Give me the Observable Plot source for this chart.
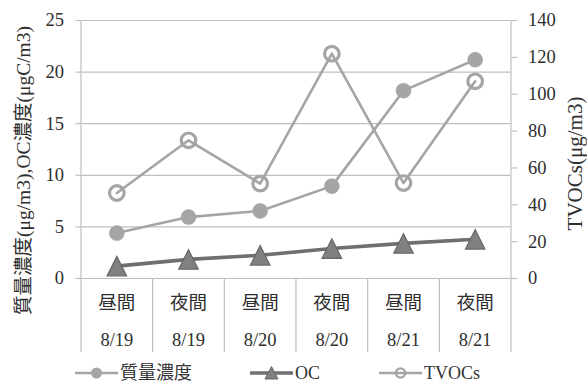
<!DOCTYPE html>
<html>
<head>
<meta charset="utf-8">
<script src="https://cdn.jsdelivr.net/npm/d3@7"></script>
<script src="https://cdn.jsdelivr.net/npm/@observablehq/plot@0.6"></script>
<style>
  html, body { margin: 0; padding: 0; background: #fff; overflow: hidden; }
  #chart { width: 587px; height: 360px; }
  .legend { position: relative; width: 587px; height: 25px;
            font-family: "Liberation Serif", "Liberation Sans", "Noto Sans CJK JP", sans-serif;
            font-size: 18px; line-height: 20px; color: #333; }
  .legend .item { position: absolute; top: 0; height: 25px; display: flex; align-items: center; white-space: nowrap; }
  .legend svg { display: block; margin-right: 2px; }
</style>
</head>
<body>
<div id="chart"></div>
<script>
// Sampling periods and dates (category axis, two rows)
const periods = ["昼間", "夜間", "昼間", "夜間", "昼間", "夜間"];
const dates = ["8/19", "8/19", "8/20", "8/20", "8/21", "8/21"];

// Series values
const massConc = [4.4, 5.95, 6.55, 8.95, 18.2, 21.2];   // μg/m3, left axis
const ocConc = [1.2, 1.85, 2.25, 2.9, 3.4, 3.8];        // μgC/m3, left axis
const tvocConc = [46.4, 75, 51.5, 122, 51.8, 107];      // μg/m3, right axis

// Axis ticks
const leftTicks = [0, 5, 10, 15, 20, 25];
const rightTicks = [0, 20, 40, 60, 80, 100, 120, 140];

const seriesNames = ["質量濃度", "OC", "TVOCs"];
const leftTitle = "質量濃度(μg/m3),OC濃度(μgC/m3)";
const rightTitle = "TVOCs(μg/m3)";

// The right axis (0–140) shares the left y scale (0–25)
const leftMax = leftTicks[leftTicks.length - 1];
const rightMax = rightTicks[rightTicks.length - 1];
const k = leftMax / rightMax;

const rows = periods.map((p, i) => ({
  pos: i + 0.5,
  period: p,
  date: dates[i],
  mass: massConc[i],
  oc: ocConc[i],
  tvoc: tvocConc[i] * k
}));
const bounds = d3.range(periods.length + 1);

const fontFamily = `"Liberation Serif", "Liberation Sans", "Noto Sans CJK JP", sans-serif`;
const textColor = "#2e2e2e";
const gridColor = "#bfbfbf";
const lightGray = "#a5a5a5";
const darkLine = "#6f6f6f";

// Upright triangle centred on its bounding box
const triangle = {
  draw(ctx, size) {
    const a = Math.sqrt(size / Math.PI) * 1.25;
    ctx.moveTo(0, -a);
    ctx.lineTo(a, a);
    ctx.lineTo(-a, a);
    ctx.closePath();
  }
};

const chart = Plot.plot({
  width: 587,
  height: 360,
  marginLeft: 80.5,
  marginRight: 76.5,
  marginTop: 20,
  marginBottom: 82,
  x: { domain: [0, periods.length], axis: null },
  y: { domain: [0, leftMax], axis: null },
  style: { fontFamily, fontSize: "18.5px", color: textColor, background: "#fff", overflow: "visible" },
  marks: [
    Plot.gridY(leftTicks, { stroke: gridColor, strokeOpacity: 1, strokeWidth: 1.2 }),
    Plot.ruleX([0, periods.length], { stroke: gridColor, strokeWidth: 1.2 }),
    // category separators below the baseline
    Plot.axisX(bounds, { tickSize: 74, tickFormat: () => "", stroke: gridColor, strokeWidth: 1.2, label: null }),
    Plot.text(rows, { x: "pos", text: "period", frameAnchor: "bottom", dy: 25, lineAnchor: "middle", fontSize: 18.5 }),
    Plot.text(rows, { x: "pos", text: "date", frameAnchor: "bottom", dy: 62, lineAnchor: "middle", fontSize: 18.5 }),
    // left axis
    Plot.axisY(leftTicks, { anchor: "left", tickSize: 5, tickPadding: 12, stroke: gridColor, strokeWidth: 1.2, label: null, fontSize: 18.5 }),
    // right axis
    Plot.axisY(rightTicks.map(v => v * k), {
      anchor: "right", tickSize: 6, tickPadding: 11, stroke: gridColor, strokeWidth: 1.2,
      tickFormat: d => String(Math.round(d / k)), label: null, fontSize: 18.5
    }),
    // axis titles
    Plot.text([leftTitle], { frameAnchor: "left", textAnchor: "middle", rotate: -90, dx: -57.5, dy: 21, fontSize: 19.5, lineAnchor: "middle" }),
    Plot.text([rightTitle], { frameAnchor: "right", textAnchor: "middle", rotate: -90, dx: 64.5, dy: 14, fontSize: 21, lineAnchor: "middle" }),
    // 質量濃度
    Plot.line(rows, { x: "pos", y: "mass", stroke: lightGray, strokeWidth: 2.6 }),
    Plot.dot(rows, { x: "pos", y: "mass", r: 7.5, fill: lightGray, stroke: lightGray, strokeWidth: 0.5 }),
    // OC
    Plot.line(rows, { x: "pos", y: "oc", stroke: darkLine, strokeWidth: 3.6 }),
    Plot.dot(rows, { x: "pos", y: "oc", symbol: triangle, r: 7.8, fill: "#808080", stroke: "#686868", strokeWidth: 1.2 }),
    // TVOCs
    Plot.line(rows, { x: "pos", y: "tvoc", stroke: lightGray, strokeWidth: 2.6 }),
    Plot.dot(rows, { x: "pos", y: "tvoc", r: 7.3, fill: "none", stroke: lightGray, strokeWidth: 3.2 })
  ]
});
document.getElementById("chart").append(chart);

// Legend below the chart
const legend = document.createElement("div");
legend.className = "legend";
const swatches = [
  { name: seriesNames[0], left: 75, line: lightGray, lw: 2.6, marker: "dot" },
  { name: seriesNames[1], left: 250, line: darkLine, lw: 3.6, marker: "tri" },
  { name: seriesNames[2], left: 379, line: lightGray, lw: 2.6, marker: "ring" }
];
for (const s of swatches) {
  const item = document.createElement("div");
  item.className = "item";
  item.style.left = s.left + "px";
  let m = "";
  if (s.marker === "dot") m = `<circle cx="21.5" cy="10" r="5.5" fill="${lightGray}"/>`;
  if (s.marker === "tri") m = `<path d="M21.5,3.5L28,16L15,16Z" fill="#808080" stroke="#686868" stroke-width="1"/>`;
  if (s.marker === "ring") m = `<circle cx="21.5" cy="10" r="4.6" fill="none" stroke="${lightGray}" stroke-width="2.4"/>`;
  item.innerHTML = `<svg width="43" height="20"><line x1="0" x2="43" y1="10" y2="10" stroke="${s.line}" stroke-width="${s.lw}"/>${m}</svg><span>${s.name}</span>`;
  legend.append(item);
}
document.body.append(legend);
</script>
</body>
</html>
